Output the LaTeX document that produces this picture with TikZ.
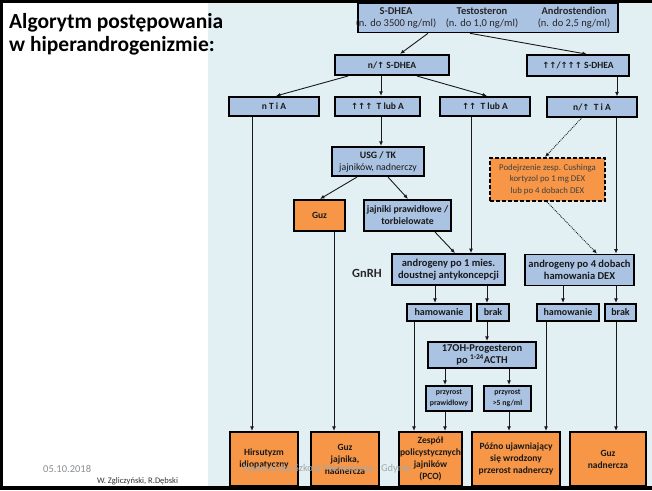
\documentclass[tikz,border=0pt]{standalone}
\usepackage{fontspec}
\setmainfont{Carlito}
\newfontfamily\arrowfont{DejaVu Sans}
\usetikzlibrary{arrows.meta}
\newcommand{\upa}{{\arrowfont\fontsize{8.5}{9}\selectfont ↑}}
\definecolor{boxblue}{HTML}{ABC3E3}
\definecolor{boxorange}{HTML}{F79646}
\definecolor{panel}{HTML}{E2F0F4}
\definecolor{footgray}{HTML}{A3A8AD}
\tikzset{
  bx/.style={draw=black, line width=1.6pt, fill=boxblue, inner sep=1pt,
    align=center, text=black!90, font=\bfseries\fontsize{9.5}{11}\selectfont},
  ob/.style={bx, fill=boxorange},
  endbox/.style={ob, minimum height=54.5pt, font=\bfseries\fontsize{9.5}{12}\selectfont},
  smallbox/.style={bx, font=\bfseries\fontsize{7.8}{11}\selectfont},
  arr/.style={-{Latex[length=4.5pt,width=3.8pt]}, line width=0.9pt, draw=black!90},
  dotarr/.style={arr, densely dotted},
  hdr/.style={align=center, text=black!85, font=\fontsize{10.5}{12}\selectfont}
}
\begin{document}
\begin{tikzpicture}[x=1pt,y=-1pt]
\useasboundingbox (0,0) rectangle (652,490);
% panel and frame
\fill[white] (0,0) rectangle (652,490);
\fill[panel] (208,2) rectangle (652,487);
\draw[line width=3pt] (652,1.5) -- (1.5,1.5) -- (1.5,488) -- (652,488);
\draw[line width=4pt] (0,488) -- (652,488);

% title
\node[anchor=base west, inner sep=0pt, font=\bfseries\fontsize{21.5}{24}\selectfont] (title1) at (9,28)
  {Algorytm postępowania};
\node[anchor=base west, inner sep=0pt, font=\bfseries\fontsize{21.5}{24}\selectfont] (title2) at (9,51)
  {w hiperandrogenizmie:};

% hormone panel
\node[bx, minimum width=260pt, minimum height=29pt] (top) at (488,18) {};
\node[hdr] (hS) at (396,18) {\textbf{S-DHEA}\\(n. do 3500 ng/ml)};
\node[hdr] (hT) at (482,18) {\textbf{Testosteron}\\(n. do 1,0 ng/ml)};
\node[hdr] (hA) at (574,18) {\textbf{Androstendion}\\(n. do 2,5 ng/ml)};

% S-DHEA level
\node[bx, minimum width=114pt, minimum height=20.5pt] (nS) at (392,65) {n/\upa\ S-DHEA};
\node[bx, minimum width=102pt, minimum height=21pt] (upS) at (578,65.5) {\upa\upa/\upa\upa\upa\ S-DHEA};

% T and A level
\node[bx, minimum width=90pt, minimum height=19.5pt] (nTiA) at (274,106.5) {n T i A};
\node[bx, minimum width=85pt, minimum height=19.5pt] (T3) at (377.5,106.5) {\upa\upa\upa\ \ T lub A};
\node[bx, minimum width=90pt, minimum height=19.5pt] (T2) at (485,106.5) {\upa\upa\ \ T lub A};
\node[bx, minimum width=90pt, minimum height=19.5pt] (upTiA) at (592,107) {n/\upa\ \ T i A};

% imaging
\node[bx, minimum width=92pt, minimum height=29.5pt, font=\bfseries\fontsize{9.8}{12}\selectfont] (usg) at (378,161.5)
  {USG / TK\\\mdseries jajników, nadnerczy};
\node[ob, minimum width=51pt, minimum height=31.5pt] (guz) at (319.5,215.5) {Guz};
\node[bx, minimum width=87pt, minimum height=31.5pt, font=\bfseries\fontsize{9.8}{12}\selectfont] (jaj) at (407.5,215.5)
  {jajniki prawidłowe /\\torbielowate};
\node[ob, dash pattern=on 4pt off 2pt, line width=1.8pt, minimum width=115pt,
      minimum height=43pt, text=black!75, font=\fontsize{8.8}{11.5}\selectfont] (cush) at (547.5,179.5)
  {Podejrzenie zesp. Cushinga\\kortyzol po 1 mg DEX\\lub po 4 dobach DEX};

% suppression tests
\node[font=\bfseries\fontsize{12.5}{14}\selectfont, text=black!85] (gnrh) at (367,273) {GnRH};
\node[bx, minimum width=113pt, minimum height=31pt, font=\bfseries\fontsize{10.5}{12.5}\selectfont] (and1) at (448.5,269.5)
  {androgeny po 1 mies.\\doustnej antykoncepcji};
\node[bx, minimum width=109pt, minimum height=31pt, font=\bfseries\fontsize{10.5}{12.5}\selectfont] (and2) at (579.5,270)
  {androgeny po 4 dobach\\hamowania DEX};

\node[bx, minimum width=64pt, minimum height=17.5pt, font=\bfseries\fontsize{10}{11}\selectfont] (ham1) at (439,312.5) {hamowanie};
\node[bx, minimum width=32pt, minimum height=17.5pt, font=\bfseries\fontsize{10}{11}\selectfont] (brak1) at (493,312.5) {brak};
\node[bx, minimum width=62pt, minimum height=17.5pt, font=\bfseries\fontsize{10}{11}\selectfont] (ham2) at (568,312.5) {hamowanie};
\node[bx, minimum width=31pt, minimum height=17.5pt, font=\bfseries\fontsize{10}{11}\selectfont] (brak2) at (620.5,312.5) {brak};

\node[bx, minimum width=108pt, minimum height=26.5pt, font=\bfseries\fontsize{10.5}{12}\selectfont] (ohp) at (482,355)
  {17OH-Progesteron\\po \textsuperscript{1-24}ACTH};
\node[smallbox, minimum width=46pt, minimum height=25.5pt] (p1) at (449,398.5) {przyrost\\prawidłowy};
\node[smallbox, minimum width=47pt, minimum height=25.5pt] (p2) at (507.5,398.5) {przyrost\\>5 ng/ml};

% diagnoses
\node[endbox, minimum width=68pt] (hirs) at (264,459) {Hirsutyzm\\idiopatyczny};
\node[endbox, minimum width=68pt] (guzj) at (345,459) {Guz\\jajnika,\\nadnercza};
\node[endbox, minimum width=63pt] (pco) at (430.5,459) {Zespół\\policystycznych\\jajników\\(PCO)};
\node[endbox, minimum width=88pt] (pozno) at (516,459) {Późno ujawniający\\się wrodzony\\przerost nadnerczy};
\node[endbox, minimum width=76pt] (guzn) at (608,459) {Guz\\nadnercza};

% connectors
\draw[arr] (top.south -| 428,0) -- (nS.north -| 400,0);
\draw[arr] (top.south -| 470,0) -- (upS.north -| 587,0);
\draw[arr] (nS.south -| 348,0) -- (nTiA.north -| 276,0);
\draw[arr] (nS.south -| 381,0) -- (T3.north -| 381,0);
\draw[arr] (nS.south -| 417,0) -- (T2.north -| 487,0);
\draw[arr] (upS.south -| 617,0) -- (upTiA.north -| 617,0);
\draw[arr] (nTiA.south -| 252,0) -- (hirs.north -| 252,0);
\draw[arr] (T3.south -| 381,0) -- (usg.north -| 381,0);
\draw[arr] (usg.south -| 357,0) -- (guz.north -| 320,0);
\draw[arr] (usg.south -| 388,0) -- (jaj.north -| 408,0);
\draw[arr] (guz.south -| 334,0) -- (guzj.north -| 334,0);
\draw[arr] (jaj.south -| 435,0) -- (and1.north -| 455,0);
\draw[arr] (T2.south -| 471,0) -- (and1.north -| 471,0);
\draw[dotarr] (upTiA.south -| 582,0) -- (cush.north -| 545,0);
\draw[dotarr] (cush.south -| 547,0) -- (and2.north -| 597,0);
\draw[arr] (upTiA.south -| 616,0) -- (and2.north -| 616,0);
\draw[arr] (and1.south -| 435,0) -- (ham1.north -| 435,0);
\draw[arr] (and1.south -| 487,0) -- (brak1.north -| 487,0);
\draw[arr] (and2.south -| 563,0) -- (ham2.north -| 563,0);
\draw[arr] (and2.south -| 616,0) -- (brak2.north -| 616,0);
\draw[arr] (brak1.south -| 487,0) -- (ohp.north -| 487,0);
\draw[arr] (ohp.south -| 445,0) -- (p1.north -| 445,0);
\draw[arr] (ohp.south -| 509,0) -- (p2.north -| 509,0);
\draw[arr] (ham1.south -| 414,0) -- (pco.north -| 414,0);
\draw[arr] (p1.south -| 445,0) -- (pco.north -| 445,0);
\draw[arr] (p2.south -| 509,0) -- (pozno.north -| 509,0);
\draw[arr] (ham2.south -| 546,0) -- (pozno.north -| 546,0);
\draw[arr] (brak2.south -| 616,0) -- (guzn.north -| 616,0);

% footer
\node[anchor=base west, inner sep=0pt, text=footgray!85!black, font=\fontsize{10.5}{12}\selectfont] (date) at (43,472) {05.10.2018};
\node[anchor=base west, inner sep=0pt, text=black!80, font=\fontsize{8.5}{10}\selectfont] (auth) at (97,483) {W. Zgliczyński, R.Dębski};
\node[anchor=base west, inner sep=0pt, text=footgray, font=\fontsize{10.5}{12}\selectfont] (school) at (243,471) {Nadmorska Szkoła Menopauzy - Gdynia};
\end{tikzpicture}
\end{document}
